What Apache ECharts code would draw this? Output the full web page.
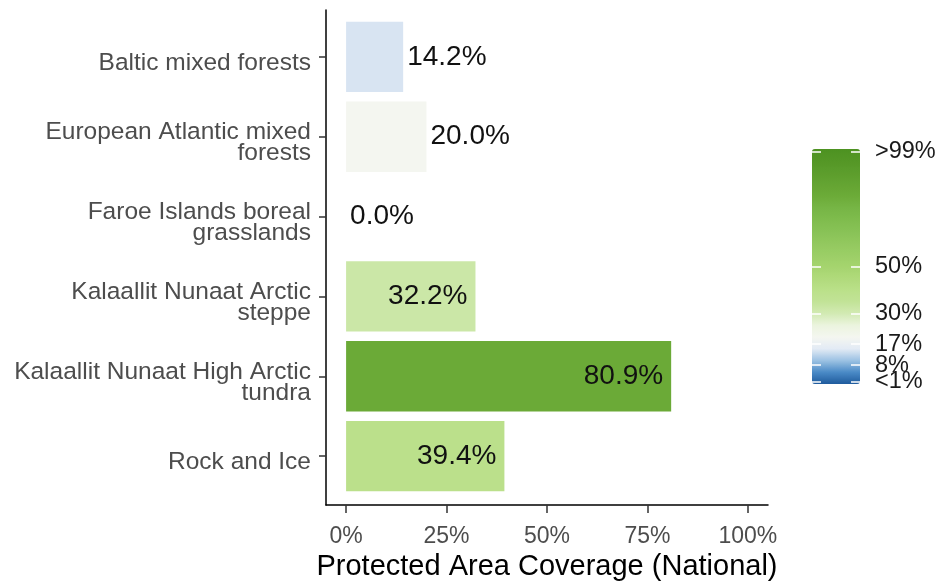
<!DOCTYPE html>
<html>
<head>
<meta charset="utf-8">
<script src="https://cdn.jsdelivr.net/npm/echarts@6/dist/echarts.min.js"></script>
<style>html,body{margin:0;padding:0;background:#fff}#chart{width:940px;height:585px}</style>
</head>
<body>
<div id="chart"></div>
<script>
const categories = ['Baltic mixed forests', 'European Atlantic mixed\nforests', 'Faroe Islands boreal\ngrasslands', 'Kalaallit Nunaat Arctic\nsteppe', 'Kalaallit Nunaat High Arctic\ntundra', 'Rock and Ice'];
const coverage = [14.2, 20.0, 0.0, 32.2, 80.9, 39.4];
const xTicks = [0, 25, 50, 75, 100];
const legendTicks = [1, 8, 17, 30, 50, 99];
const legendTickLabels = ['<1%', '8%', '17%', '30%', '50%', '>99%'];
const colorStops = ['#1f5b9d','#4a8ac6','#9cc2e3','#e3ebf5','#f4f6f0','#ebf4de','#d2eab3','#c2e397','#bae089','#b0da7b','#a5d46e','#9bce66','#92c85e','#88c256','#7fbc4d','#76b545','#6cab38','#64a432','#5c9d2c','#549726','#4d9221'];

const FONT = 'Liberation Sans, Arial, sans-serif';
const chart = echarts.init(document.getElementById('chart'), null, {renderer: 'canvas'});

const barData = coverage.map((v, i) => ({
  value: [v, i],
  label: v >= 30 ? {position: 'insideRight', distance: 8} : {position: 'right', distance: 4}
}));
const legendLabel = v => legendTickLabels[legendTicks.indexOf(v)];
// legend labels split over two axes so that the close ones are all drawn
const legendLabelsA = legendTicks.filter(v => v !== 8);
const legendLabelsB = legendTicks.filter(v => v === 8);

chart.setOption({
  animation: false,
  backgroundColor: '#ffffff',
  textStyle: {fontFamily: FONT},
  grid: [
    {left: 326, right: 172, top: 17, height: 479, outerBoundsMode: 'none'},
    {left: 326, right: 172, top: 10, bottom: 80, outerBoundsMode: 'none'},
    {left: 812, width: 48, top: 149, height: 235, outerBoundsMode: 'none'},
    {left: 326, right: 172, top: 23, height: 479, outerBoundsMode: 'none'}
  ],
  xAxis: [
    {gridIndex: 0, type: 'value', min: -5, max: 105, show: false},
    {gridIndex: 1, type: 'value', min: -5, max: 105,
      axisLine: {show: true, onZero: false, lineStyle: {color: '#000', width: 1.5}},
      axisTick: {show: true, length: 8, customValues: xTicks, lineStyle: {color: '#333', width: 1.5}},
      axisLabel: {show: true, customValues: xTicks, formatter: v => v + '%', color: '#4d4d4d', fontSize: 23, margin: 20, fontFamily: FONT},
      splitLine: {show: false},
      name: 'Protected Area Coverage (National)', nameLocation: 'middle', nameGap: 47, nameMoveOverlap: false,
      nameTextStyle: {color: '#000', fontSize: 29, fontFamily: FONT}
    },
    {gridIndex: 2, type: 'value', min: 0, max: 1, show: false},
    {gridIndex: 3, type: 'value', min: -5, max: 105, show: false}
  ],
  yAxis: [
    {gridIndex: 0, type: 'category', data: categories, inverse: true,
      axisLine: {show: false, onZero: false},
      axisTick: {show: true, alignWithLabel: true, length: 7, lineStyle: {color: '#333', width: 1.5}},
      axisLabel: {show: false}
    },
    {gridIndex: 1, type: 'value', min: 0, max: 1,
      axisLine: {show: true, onZero: false, lineStyle: {color: '#000', width: 1.5}},
      axisTick: {show: false}, axisLabel: {show: false}, splitLine: {show: false}
    },
    {gridIndex: 2, type: 'value', min: 0, max: 100, position: 'right', z: 10,
      axisLine: {show: false, onZero: false},
      axisTick: {show: true, inside: true, length: 9, customValues: legendTicks, lineStyle: {color: '#fff', width: 1.5}},
      axisLabel: {show: true, customValues: legendLabelsA, hideOverlap: false, margin: 15, color: '#1a1a1a', fontSize: 23.5, fontFamily: FONT,
        formatter: legendLabel},
      splitLine: {show: false}
    },
    {gridIndex: 2, type: 'value', min: 0, max: 100, position: 'left', z: 10,
      axisLine: {show: false, onZero: false},
      axisTick: {show: true, inside: true, length: 9, customValues: legendTicks, lineStyle: {color: '#fff', width: 1.5}},
      axisLabel: {show: false}, splitLine: {show: false}
    },
    {gridIndex: 2, type: 'value', min: 0, max: 100, position: 'right', offset: 0, z: 10,
      axisLine: {show: false, onZero: false},
      axisTick: {show: false},
      axisLabel: {show: true, customValues: legendLabelsB, hideOverlap: false, margin: 15, color: '#1a1a1a', fontSize: 23.5, fontFamily: FONT,
        formatter: legendLabel},
      splitLine: {show: false}
    },
    {gridIndex: 3, type: 'category', data: categories, inverse: true,
      axisLine: {show: false, onZero: false},
      axisTick: {show: false},
      axisLabel: {color: '#4d4d4d', fontSize: 24.5, lineHeight: 21, margin: 15, fontFamily: FONT}
    }
  ],
  visualMap: [{
    type: 'continuous', seriesIndex: 0, dimension: 0, min: 0, max: 100, z: 2,
    left: 812, top: 149, itemWidth: 48, itemHeight: 235, padding: 0,
    calculable: false, hoverLink: false, text: null, showLabel: false,
    inRange: {color: colorStops}
  }],
  series: [{
    type: 'bar', xAxisIndex: 0, yAxisIndex: 0,
    data: barData, barWidth: '88%',
    label: {show: true, formatter: p => p.value[0].toFixed(1) + '%', color: '#111', fontSize: 28, fontFamily: FONT},
    silent: true
  }]
});
</script>
</body>
</html>
